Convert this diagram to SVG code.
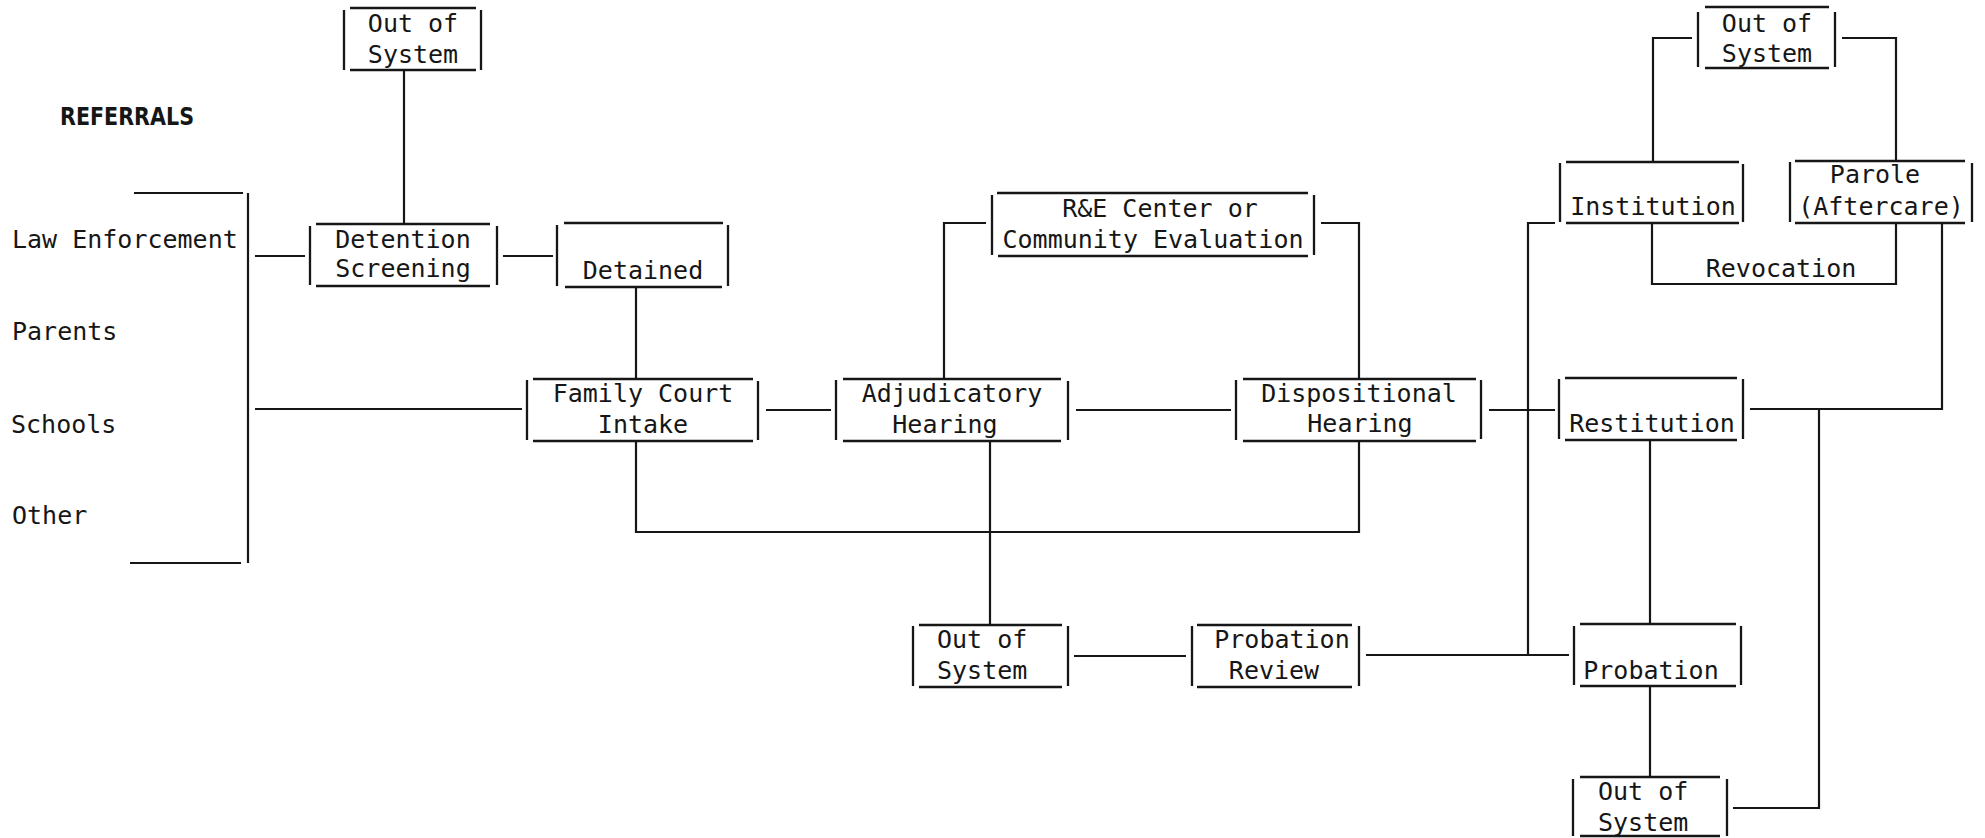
<svg xmlns="http://www.w3.org/2000/svg" width="1985" height="838" viewBox="0 0 1985 838">
<style>
.bg{fill:#ffffff}
.bx{fill:none;stroke:#161616;stroke-width:2.3}
.ln{fill:none;stroke:#161616;stroke-width:2.2}
text{font-family:"DejaVu Sans Mono","Liberation Mono",monospace;font-size:25px;fill:#161616}
.c{text-anchor:middle}
.b{font-family:"DejaVu Sans","Liberation Sans",sans-serif;font-weight:bold;font-size:24px}
</style>
<rect class="bg" x="0" y="0" width="1985" height="838"/>

<g id="labels">
<text class="b" x="60" y="125" textLength="134" lengthAdjust="spacingAndGlyphs">REFERRALS</text>
<text x="12" y="248">Law Enforcement</text>
<text x="12" y="340">Parents</text>
<text x="11" y="433">Schools</text>
<text x="12" y="524">Other</text>
<text class="c" x="1781" y="277">Revocation</text>
</g>

<g id="connectors">
<path class="ln" d="M404,70 V224"/>
<path class="ln" d="M134,193 H243 M248,193 V563 M130,563 H241"/>
<path class="ln" d="M255,256 H305"/>
<path class="ln" d="M503,256 H553"/>
<path class="ln" d="M636,287 V379"/>
<path class="ln" d="M255,409 H522"/>
<path class="ln" d="M766,410 H831"/>
<path class="ln" d="M944,379 V223 H986"/>
<path class="ln" d="M1321,223 H1359 V379"/>
<path class="ln" d="M1076,410 H1231"/>
<path class="ln" d="M636,441 V532 H1359 V441"/>
<path class="ln" d="M990,441 V625"/>
<path class="ln" d="M1074,656 H1186"/>
<path class="ln" d="M1366,655 H1569"/>
<path class="ln" d="M1555,223 H1528 V655"/>
<path class="ln" d="M1489,410 H1555"/>
<path class="ln" d="M1653,162 V38 H1692"/>
<path class="ln" d="M1842,38 H1896 V161"/>
<path class="ln" d="M1652,223 V284 H1896 V223"/>
<path class="ln" d="M1650,440 V624"/>
<path class="ln" d="M1650,686 V777"/>
<path class="ln" d="M1750,409 H1942 V223"/>
<path class="ln" d="M1819,409 V808 H1733"/>
</g>

<g id="oos1">
<path class="bx" d="M350,8 H476 M350,70 H476 M344,10 V70 M481,10 V70"/>
<text class="c" x="413" y="32">Out of</text>
<text class="c" x="413" y="63">System</text>
</g>

<g id="detention-screening">
<path class="bx" d="M316,224 H490 M316,286 H490 M310,226 V285 M497,226 V285"/>
<text class="c" x="403" y="248">Detention</text>
<text class="c" x="403" y="277">Screening</text>
</g>

<g id="detained">
<path class="bx" d="M564,223 H723 M565,287 H722 M557,225 V286 M728,225 V286"/>
<text class="c" x="643" y="279">Detained</text>
</g>

<g id="family-court-intake">
<path class="bx" d="M533,379 H753 M533,441 H753 M527,380 V440 M758,381 V440"/>
<text class="c" x="643" y="402">Family Court</text>
<text class="c" x="643" y="433">Intake</text>
</g>

<g id="adjudicatory-hearing">
<path class="bx" d="M843,379 H1061 M843,441 H1061 M836,380 V440 M1068,381 V440"/>
<text class="c" x="952" y="402">Adjudicatory</text>
<text class="c" x="945" y="433">Hearing</text>
</g>

<g id="re-center">
<path class="bx" d="M997,193 H1308 M998,256 H1308 M992,195 V255 M1314,195 V255"/>
<text class="c" x="1160" y="217">R&amp;E Center or</text>
<text class="c" x="1153" y="248">Community Evaluation</text>
</g>

<g id="dispositional-hearing">
<path class="bx" d="M1243,379 H1476 M1243,441 H1476 M1236,380 V440 M1481,380 V439"/>
<text class="c" x="1359" y="402">Dispositional</text>
<text class="c" x="1360" y="432">Hearing</text>
</g>

<g id="out-of-system-mid">
<path class="bx" d="M919,625 H1062 M919,687 H1062 M913,626 V686 M1068,626 V686"/>
<text x="937" y="648">Out of</text>
<text x="937" y="679">System</text>
</g>

<g id="probation-review">
<path class="bx" d="M1197,625 H1352 M1197,687 H1352 M1192,626 V686 M1359,626 V686"/>
<text class="c" x="1282" y="648">Probation</text>
<text class="c" x="1274" y="679">Review</text>
</g>

<g id="restitution">
<path class="bx" d="M1565,378 H1737 M1565,440 H1737 M1559,379 V439 M1743,379 V439"/>
<text class="c" x="1652" y="432">Restitution</text>
</g>

<g id="probation">
<path class="bx" d="M1580,624 H1736 M1580,686 H1736 M1574,626 V685 M1741,626 V685"/>
<text class="c" x="1651" y="679">Probation</text>
</g>

<g id="out-of-system-bottom">
<path class="bx" d="M1580,777 H1720 M1580,836 H1720 M1573,779 V836 M1727,779 V836"/>
<text x="1598" y="800">Out of</text>
<text x="1598" y="831">System</text>
</g>

<g id="institution">
<path class="bx" d="M1566,162 H1739 M1566,223 H1739 M1560,163 V222 M1743,164 V222"/>
<text class="c" x="1653" y="215">Institution</text>
</g>

<g id="parole">
<path class="bx" d="M1795,161 H1965 M1795,223 H1965 M1790,162 V222 M1972,163 V222"/>
<text class="c" x="1875" y="183">Parole</text>
<text class="c" x="1881" y="215">(Aftercare)</text>
</g>

<g id="out-of-system-top-right">
<path class="bx" d="M1705,7 H1829 M1705,68 H1829 M1698,12 V67 M1835,12 V67"/>
<text class="c" x="1767" y="32">Out of</text>
<text class="c" x="1767" y="62">System</text>
</g>
</svg>
